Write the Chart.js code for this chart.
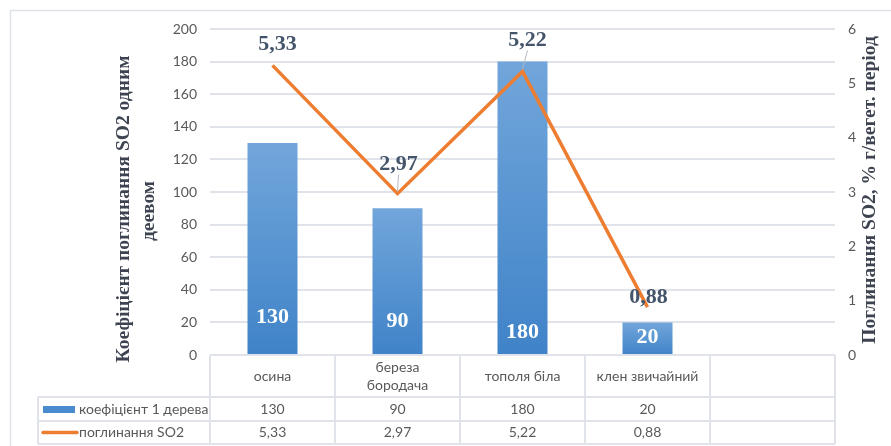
<!DOCTYPE html>
<html>
<head>
<meta charset="utf-8">
<script src="https://cdn.jsdelivr.net/npm/chart.js@4.4.1/dist/chart.umd.min.js"></script>
<style>
  html, body { margin: 0; padding: 0; background: #fff; }
  #wrap { width: 891px; height: 446px; position: relative; }
</style>
</head>
<body>
<div id="wrap"><canvas id="so2Chart"></canvas></div>
<script>
// data
const categories = [['осина'], ['береза', 'бородача'], ['тополя біла'], ['клен звичайний'], ['']];
const seriesNames = ['коефіцієнт 1 дерева', 'поглинання SO2'];
const coefValues = [130, 90, 180, 20];
const so2Values = [5.33, 2.97, 5.22, 0.88];
const leftTicks = [0, 20, 40, 60, 80, 100, 120, 140, 160, 180, 200];
const rightTicks = [0, 1, 2, 3, 4, 5, 6];
const leftTitle = ['Коефіцієнт поглинання SO2 одним', 'деевом'];
const rightTitle = 'Поглинання SO2, % г/вегет. період';

// label placement tweaks (px)
const lineLabelShift = [[5, -21], [1, -29], [5, -31], [1, -10]];
const lineLeader = [false, true, true, false];
const barLabelRise = [37, 33, 22, 17];

const fmt = v => String(v).replace('.', ',');
const tickFont = { family: 'Lato', size: 14 };
const gray = '#595959';
const gridGray = '#e0e4ea';

// shrink a bold serif font until the text fits the given length
function fitFont(c, text, maxLen, size) {
  c.font = `bold ${size}px "Liberation Serif"`;
  while (size > 10 && c.measureText(text).width > maxLen) {
    size -= 0.5;
    c.font = `bold ${size}px "Liberation Serif"`;
  }
  return size;
}

const decor = {
  id: 'decor',
  beforeDraw(chart) {
    const c = chart.ctx;
    c.save();
    c.strokeStyle = '#dfe3e8';
    c.lineWidth = 1.5;
    c.strokeRect(10.5, 10.5, 900, 460);
    c.restore();
  },
  afterDatasetsDraw(chart) {
    const c = chart.ctx;
    const bars = chart.getDatasetMeta(1).data;
    const pts = chart.getDatasetMeta(0).data;
    c.save();
    c.textAlign = 'center';
    c.textBaseline = 'middle';
    c.font = 'bold 22px "Liberation Serif"';
    // values inside the bars
    c.fillStyle = '#ffffff';
    bars.forEach((b, i) => {
      c.fillText(fmt(coefValues[i]), b.x, b.base - barLabelRise[i]);
    });
    // values over the line
    pts.forEach((p, i) => {
      const lx = p.x + lineLabelShift[i][0];
      const ly = p.y + lineLabelShift[i][1];
      if (lineLeader[i]) {
        c.strokeStyle = '#b4b9c2';
        c.lineWidth = 1;
        c.beginPath();
        c.moveTo(lx, ly + 10);
        c.lineTo(p.x, p.y - 2);
        c.stroke();
      }
      c.fillStyle = '#44546a';
      c.fillText(fmt(so2Values[i]), lx, ly);
    });
    c.restore();
  },
  afterDraw(chart) {
    const c = chart.ctx;
    const x = chart.scales.x;
    const area = chart.chartArea;
    const n = categories.length;
    const step = (x.getPixelForValue(1) - x.getPixelForValue(0));
    const left = x.getPixelForValue(0) - step / 2;
    const right = x.getPixelForValue(n - 1) + step / 2;
    const top = area.bottom;
    const r1 = top + 42, r2 = r1 + 24, r3 = r2 + 23;
    const legLeft = 38;

    c.save();
    c.strokeStyle = gridGray;
    c.lineWidth = 2;
    c.beginPath();
    c.moveTo(left, top); c.lineTo(right, top);
    [r1, r2, r3].forEach(y => { c.moveTo(legLeft, y); c.lineTo(right, y); });
    for (let i = 0; i <= n; i++) {
      const vx = left + i * step;
      c.moveTo(vx, top); c.lineTo(vx, r3);
    }
    c.moveTo(legLeft, r1); c.lineTo(legLeft, r3);
    c.stroke();

    c.fillStyle = gray;
    c.font = '14px Lato';
    c.textAlign = 'center';
    c.textBaseline = 'middle';
    categories.forEach((lines, i) => {
      const cx = x.getPixelForValue(i);
      const mid = (top + r1) / 2;
      lines.forEach((t, k) => {
        c.fillText(t, cx, mid + (k - (lines.length - 1) / 2) * 18);
      });
      if (i < coefValues.length) {
        c.fillText(fmt(coefValues[i]), cx, (r1 + r2) / 2);
        c.fillText(fmt(so2Values[i]), cx, (r2 + r3) / 2);
      }
    });

    // legend keys in the table
    c.textAlign = 'left';
    c.fillStyle = '#4a8bd0';
    c.fillRect(43, (r1 + r2) / 2 - 3, 32, 7);
    c.strokeStyle = '#ed7d31';
    c.lineWidth = 3.5;
    c.lineCap = 'round';
    c.beginPath();
    c.moveTo(43, (r2 + r3) / 2); c.lineTo(77, (r2 + r3) / 2);
    c.stroke();
    c.fillStyle = gray;
    c.fillText(seriesNames[0], 79, (r1 + r2) / 2);
    c.fillText(seriesNames[1], 79, (r2 + r3) / 2);

    // axis titles
    c.fillStyle = '#3d4350';
    c.textAlign = 'center';
    const ls = fitFont(c, leftTitle[0], 312, 20);
    c.save();
    c.translate(124, 209);
    c.rotate(-Math.PI / 2);
    c.fillText(leftTitle[0], 0, 0);
    c.translate(-2, 25);
    c.fillText(leftTitle[1], 0, 0);
    c.restore();
    fitFont(c, rightTitle, 314, 20);
    c.save();
    c.translate(870, 190);
    c.rotate(-Math.PI / 2);
    c.fillText(rightTitle, 0, 0);
    c.restore();
    c.restore();
  }
};

const ctx = document.getElementById('so2Chart').getContext('2d');

const so2Chart = new Chart(ctx, {
  data: {
    labels: categories,
    datasets: [{
      type: 'line',
      label: seriesNames[1],
      data: so2Values,
      yAxisID: 'y2',
      borderColor: '#ed7d31',
      borderWidth: 3.5,
      pointRadius: 0,
      tension: 0,
      order: 0
    }, {
      type: 'bar',
      label: seriesNames[0],
      data: coefValues,
      yAxisID: 'y',
      categoryPercentage: 1,
      barPercentage: 0.4,
      order: 1,
      backgroundColor: (context) => {
        const chart = context.chart;
        if (!chart.chartArea || context.type !== 'data') return '#5b9bd5';
        const y = chart.scales.y;
        const top = y.getPixelForValue(context.raw);
        const base = y.getPixelForValue(0);
        const g = chart.ctx.createLinearGradient(0, top, 0, base);
        g.addColorStop(0, '#72a6db');
        g.addColorStop(1, '#3f83c8');
        return g;
      }
    }]
  },
  options: {
    responsive: true,
    maintainAspectRatio: false,
    animation: false,
    layout: { padding: { top: 29, bottom: 91, left: 0, right: 0 } },
    plugins: {
      legend: { display: false },
      tooltip: { enabled: false }
    },
    scales: {
      x: { display: false },
      y: {
        position: 'left',
        min: 0,
        max: 200,
        afterBuildTicks: s => { s.ticks = leftTicks.map(v => ({ value: v })); },
        afterFit: s => { s.width = 210; },
        border: { display: false },
        grid: { color: gridGray, lineWidth: 2, drawTicks: false },
        ticks: { color: gray, font: tickFont, padding: 13 }
      },
      y2: {
        position: 'right',
        min: 0,
        max: 6,
        afterBuildTicks: s => { s.ticks = rightTicks.map(v => ({ value: v })); },
        afterFit: s => { s.width = 56; },
        border: { display: false },
        grid: { display: false, drawTicks: false },
        ticks: { color: gray, font: tickFont, padding: 13 }
      }
    }
  },
  plugins: [decor]
});
</script>
</body>
</html>
